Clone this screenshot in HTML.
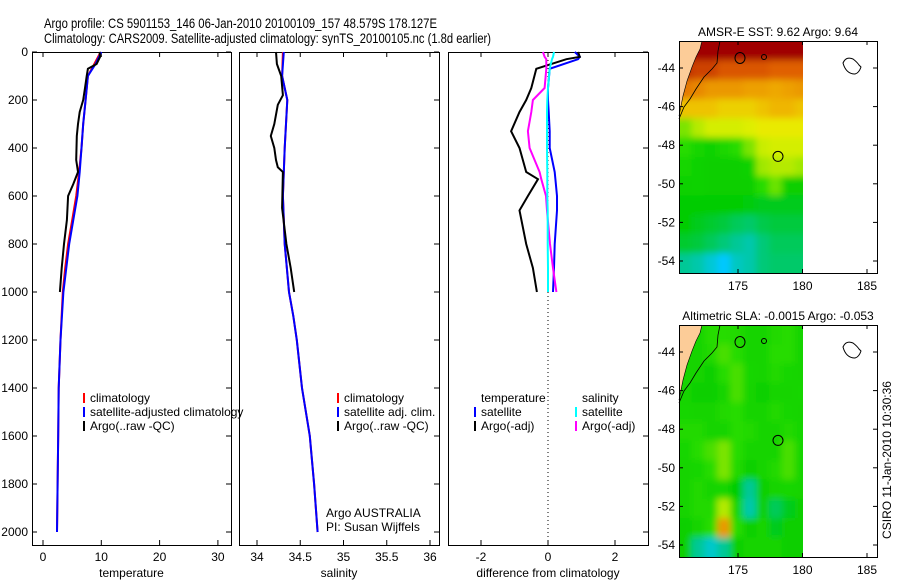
<!DOCTYPE html>
<html><head><meta charset="utf-8"><style>
body{margin:0;background:#fff;}
svg{display:block;font-family:"Liberation Sans",sans-serif;}
</style></head><body>
<svg id="c" width="900" height="580" viewBox="0 0 900 580">
<defs>
<filter id="soft" x="-5%" y="-5%" width="110%" height="110%"><feGaussianBlur stdDeviation="3.5"/></filter>
<clipPath id="clip1"><rect x="679" y="41" width="124" height="232"/></clipPath>
<clipPath id="clip2"><rect x="679" y="325" width="124" height="232"/></clipPath>
</defs>
</svg>
<script>
// ---- data ----
const tempClimDepth=[0,50,100,200,300,400,500,600,700,800,900,1000,1200,1400,1600,1800,2000];
const tempClim=[9.9,8.8,7.7,7.3,6.9,6.6,6.2,5.7,5.0,4.3,3.8,3.4,3.0,2.7,2.6,2.5,2.4];
const tempSat=[10.0,9.0,7.7,7.3,6.9,6.6,6.3,5.9,5.2,4.5,4.0,3.5,3.0,2.7,2.6,2.5,2.4];
const tempArgoDepth=[0,20,50,70,100,150,200,250,300,350,450,500,550,600,700,800,900,1000];
const tempArgo=[9.7,9.8,9.2,7.7,7.5,7.2,6.9,6.3,6.0,5.8,5.7,6.0,5.2,4.3,4.1,3.6,3.2,2.9];
const salClimDepth=[0,100,200,400,600,800,1000,1100,1200,1400,1600,1800,2000];
const salClim=[34.30,34.29,34.35,34.32,34.30,34.32,34.37,34.42,34.46,34.52,34.61,34.66,34.70];
const salSat=[34.31,34.29,34.35,34.32,34.30,34.32,34.37,34.42,34.46,34.52,34.61,34.66,34.70];
const salArgoDepth=[0,50,100,180,220,300,350,400,450,480,500,650,800,900,1000];
const salArgo=[34.22,34.23,34.28,34.30,34.24,34.20,34.16,34.20,34.22,34.24,34.30,34.29,34.34,34.39,34.43];
const diffDepth=[0,20,30,70,150,200,250,330,400,500,530,600,660,800,900,1000];
const diffTempSat=[0.8,0.95,0.9,0.05,0.0,0.0,0.02,0.05,0.05,0.2,0.22,0.27,0.27,0.2,0.18,0.15];
const diffTempArgo=[0.9,0.95,0.55,-0.35,-0.5,-0.65,-0.85,-1.1,-0.85,-0.65,-0.3,-0.6,-0.85,-0.65,-0.45,-0.33];
const diffSalSat=[0.18,0.15,0.12,0.05,0.0,-0.02,-0.03,-0.03,-0.03,-0.02,-0.02,-0.02,-0.01,-0.01,0.0,0.0];
const diffSalArgo=[-0.15,-0.1,-0.05,-0.05,-0.1,-0.45,-0.5,-0.6,-0.55,-0.25,-0.2,-0.06,-0.03,0.06,0.15,0.25];
const depthTicks=[0,200,400,600,800,1000,1200,1400,1600,1800,2000];
const tempTicks=[0,10,20,30];
const salTicks=[34,34.5,35,35.5,36];
const diffTicks=[-2,0,2];
const lonTicks=[175,180,185];
const latTicks=[-44,-46,-48,-50,-52,-54];
// SST grid (normalized colour value), rows from north (-42.6) to south, 1 deg lon cols from 170.4
const sstGrid=[
[.95,.95,.95,.95,.95,.95,.95,.95,.95,.95],
[.9,.88,.88,.86,.86,.86,.86,.85,.85,.85],
[.82,.8,.78,.78,.78,.77,.77,.76,.77,.78],
[.72,.72,.72,.7,.7,.7,.72,.74,.74,.72],
[.55,.6,.63,.63,.63,.64,.66,.66,.66,.66],
[.5,.46,.44,.47,.5,.55,.62,.63,.63,.63],
[.46,.44,.42,.42,.42,.44,.58,.6,.6,.58],
[.43,.44,.42,.42,.42,.42,.5,.54,.42,.42],
[.4,.4,.4,.4,.4,.39,.38,.38,.38,.38],
[.4,.38,.37,.36,.34,.33,.35,.36,.36,.36],
[.37,.36,.34,.32,.3,.28,.32,.34,.34,.34],
[.3,.28,.24,.2,.26,.28,.32,.33,.33,.33]];
const slaGrid=[
[.45,.45,.5,.5,.48,.45,.45,.48,.5,.45],
[.45,.45,.48,.52,.5,.45,.45,.5,.5,.45],
[.45,.45,.42,.5,.52,.46,.45,.48,.46,.45],
[.45,.42,.42,.45,.52,.45,.42,.45,.45,.46],
[.46,.45,.45,.48,.5,.45,.45,.48,.46,.45],
[.48,.48,.45,.45,.5,.48,.45,.45,.48,.46],
[.46,.5,.52,.55,.5,.45,.45,.45,.52,.46],
[.45,.46,.5,.55,.48,.42,.45,.48,.52,.45],
[.45,.48,.45,.46,.4,.3,.42,.45,.46,.45],
[.45,.48,.48,.6,.45,.28,.42,.34,.38,.42],
[.42,.45,.5,.78,.5,.42,.45,.38,.42,.42],
[.42,.3,.25,.3,.42,.45,.45,.45,.42,.42]];
// ---- drawing ----
const NS="http://www.w3.org/2000/svg";
const svg=document.getElementById('c');
function el(t,a,p){const e=document.createElementNS(NS,t);for(const k in a)e.setAttribute(k,a[k]);(p||svg).appendChild(e);return e;}
function txt(x,y,s,anchor,size,name,extra){const e=el('text',Object.assign({x:x,y:y,'font-size':size||12,'text-anchor':anchor||'start',fill:'#000'},extra||{}));e.textContent=s;


return e;}
const Y0=52,Ypx=0.24,YB=545;
const yD=d=>Y0+d*Ypx;
const xT=v=>43+v*5.83;
const xS=v=>257+(v-34)*86.5;
const xDf=v=>548+v*33.5;
function stepPath(xs,ds,fx){let d='';for(let i=0;i<xs.length;i++){d+=(i?'L':'M')+fx(xs[i]).toFixed(1)+','+yD(ds[i]).toFixed(1);}return d;}
function line(xs,ds,fx,col,name,w){const p=el('path',{d:stepPath(xs,ds,fx),fill:'none',stroke:col,'stroke-width':w||2});

}
function panel(x0,x1,name,ticks,fx,fmt,label,yl){
 const g=el('g',{});
 
 
 el('rect',{x:x0+.5,y:Y0+.5,width:x1-x0,height:YB-Y0,fill:'none',stroke:'#000','stroke-width':1},g);
 ticks.forEach(t=>{const x=fx(t);el('line',{x1:x,x2:x,y1:Y0,y2:Y0+5,stroke:'#000'},g);el('line',{x1:x,x2:x,y1:YB,y2:YB-5,stroke:'#000'},g);
  txt(x,561,fmt(t),'middle',12,'x-tick-label');});
 if(yl){depthTicks.forEach(d=>{const y=yD(d);el('line',{x1:x0,x2:x0+5,y1:y,y2:y,stroke:'#000'},g);el('line',{x1:x1,x2:x1-5,y1:y,y2:y,stroke:'#000'},g);txt(x0-4,y+4,String(d),'end',12,'y-tick-label');});}
 else{depthTicks.forEach(d=>{const y=yD(d);el('line',{x1:x1,x2:x1-5,y1:y,y2:y,stroke:'#000'},g);});}
 txt((x0+x1)/2,577,label,'middle',12,'x-axis-title');
}
panel(32,231,'temperature-panel',tempTicks,xT,String,'temperature',true);
panel(239,439,'salinity-panel',salTicks,xS,String,'salinity',false);
panel(448,648,'difference-panel',diffTicks,xDf,String,'difference from climatology',false);
el('line',{x1:548,x2:548,y1:Y0,y2:YB,stroke:'#000','stroke-dasharray':'1,3'});
line(tempClim,tempClimDepth,xT,'#ff0000','temp-climatology-line');
line(tempSat,tempClimDepth,xT,'#0000ff','temp-satellite-line');
line(tempArgo,tempArgoDepth,xT,'#000','temp-argo-line');
line(salClim,salClimDepth,xS,'#ff0000','sal-climatology-line');
line(salSat,salClimDepth,xS,'#0000ff','sal-satellite-line');
line(salArgo,salArgoDepth,xS,'#000','sal-argo-line');
line(diffTempSat,diffDepth,xDf,'#0000ff','diff-temp-satellite-line');
line(diffTempArgo,diffDepth,xDf,'#000','diff-temp-argo-line');
line(diffSalArgo,diffDepth,xDf,'#ff00ff','diff-sal-argo-line');
line(diffSalSat,diffDepth,xDf,'#00ffff','diff-sal-satellite-line');
function leg(x,y,col,s,name){if(col){const r=el('rect',{x:x-7,y:y-9,width:2,height:10,fill:col});}txt(x,y,s,'start',12,name);}
leg(90,402,'#ff0000','climatology','legend-climatology');
leg(90,416,'#0000ff','satellite-adjusted climatology','legend-satellite');
leg(90,430,'#000','Argo(..raw -QC)','legend-argo');
leg(344,402,'#ff0000','climatology','legend-sal-climatology');
leg(344,416,'#0000ff','satellite adj. clim.','legend-sal-satellite');
leg(344,430,'#000','Argo(..raw -QC)','legend-sal-argo');
txt(326,517,'Argo AUSTRALIA','start',12,'credit-argo');
txt(326,531,'PI: Susan Wijffels','start',12,'credit-pi');
leg(481,402,null,'temperature','legend-temperature-header');
leg(481,416,'#0000ff','satellite','legend-diff-temp-satellite');
leg(481,430,'#000','Argo(-adj)','legend-diff-temp-argo');
leg(582,402,null,'salinity','legend-salinity-header');
leg(582,416,'#00ffff','satellite','legend-diff-sal-satellite');
leg(582,430,'#ff00ff','Argo(-adj)','legend-diff-sal-argo');
txt(44,28,'Argo profile: CS 5901153_146 06-Jan-2010 20100109_157 48.579S 178.127E','start',14,'title-line-1',{textLength:393,lengthAdjust:'spacingAndGlyphs'});
txt(44,43,'Climatology: CARS2009. Satellite-adjusted climatology: synTS_20100105.nc (1.8d earlier)','start',14,'title-line-2',{textLength:447,lengthAdjust:'spacingAndGlyphs'});
const stops=[[0,[0,48,255]],[.2,[0,200,255]],[.3,[0,200,150]],[.4,[0,204,0]],[.5,[40,220,0]],[.56,[140,230,0]],[.65,[232,240,0]],[.75,[240,176,0]],[.85,[224,96,0]],[.95,[160,0,0]],[1,[150,0,0]]];
function cmap(v){for(let i=1;i<stops.length;i++){if(v<=stops[i][0]){const a=stops[i-1],b=stops[i],t=(v-a[0])/(b[0]-a[0]);return 'rgb('+a[1].map((c,k)=>Math.round(c+(b[1][k]-c)*t)).join(',')+')';}}return 'rgb(150,0,0)';}
function map(top,grid,name,title,clip){
 const lx=v=>738+(v-175)*12.9;
 const latY=v=>top+27+(-44-v)*19.3;
 const g=el('g',{});
 
 
 const x0=679,x1=877,y0=top,y1=top+232;
 const cg=el('g',{'clip-path':'url(#'+clip+')'},g);
 const fg=el('g',{filter:'url(#soft)'},cg);
 for(let r=0;r<grid.length;r++)for(let c=0;c<grid[r].length;c++){
  let cx=lx(170.4+c),cy=latY(-42.6-r);
  let w=lx(170.4+c+1)-cx,h=latY(-42.6-r-1)-cy;
  // extend edge cells so blur doesn't fade at borders
  if(c===0){cx-=8;w+=8;} if(r===0){cy-=8;h+=8;} if(r===grid.length-1)h+=8;
  if(c===grid[r].length-1)w=Math.max(0,803-cx)+8;
  const cell=el('rect',{x:cx.toFixed(1),y:cy.toFixed(1),width:(w+.4).toFixed(1),height:(h+.4).toFixed(1),fill:cmap(grid[r][c])},fg);
  
  }
 el('rect',{x:803,y:y0,width:80,height:240,fill:'#fff'},g);
 const land=el('path',{d:`M679,${y0} L702,${y0} L700,${y0+8} L696,${y0+16} L692,${y0+26} L687,${y0+40} L683,${y0+55} L679,${y0+75} Z`,fill:'#fccc98'},g);
 
 el('path',{d:`M720,${y0} L718,${y0+10} L717,${y0+22} L712,${y0+28} L704,${y0+36} L696,${y0+48} L690,${y0+58} L684,${y0+66} L679,${y0+78}`,fill:'none',stroke:'#000','stroke-width':0.8},g);
 el('path',{d:`M702,${y0} L700,${y0+8} L696,${y0+16} L692,${y0+26} L687,${y0+40} L683,${y0+55} L679,${y0+75}`,fill:'none',stroke:'#000','stroke-width':0.6},g);
 el('ellipse',{cx:740,cy:y0+17,rx:5,ry:5.5,fill:'none',stroke:'#000'},g);
 el('ellipse',{cx:764,cy:y0+16,rx:2.5,ry:2.5,fill:'none',stroke:'#000'},g);
 el('path',{d:`M843,${y0+22} q3,-7 10,-4 q4,3 6,6 l2,2 q-2,6 -6,7 q-9,0 -12,-11z`,fill:'none',stroke:'#000'},g);
 const ac=el('circle',{cx:778,cy:latY(-48.58),r:5,fill:'none',stroke:'#000'},g);
 
 el('rect',{x:x0+.5,y:y0+.5,width:x1-x0,height:y1-y0,fill:'none',stroke:'#000'},g);
 lonTicks.forEach(v=>{const x=lx(v);el('line',{x1:x,x2:x,y1:y1,y2:y1-4,stroke:'#000'},g);el('line',{x1:x,x2:x,y1:y0,y2:y0+4,stroke:'#000'},g);txt(x,y1+17,String(v),'middle',12,'lon-tick-label');});
 latTicks.forEach(v=>{const y=latY(v);el('line',{x1:x0,x2:x0+4,y1:y,y2:y,stroke:'#000'},g);el('line',{x1:x1,x2:x1-4,y1:y,y2:y,stroke:'#000'},g);txt(x0-4,y+4,String(v),'end',12,'lat-tick-label');});
 txt(778,top-5,title,'middle',12,name+'-title');
}
map(41,sstGrid,'sst-map','AMSR-E SST: 9.62 Argo: 9.64','clip1');
map(325,slaGrid,'sla-map','Altimetric SLA: -0.0015 Argo: -0.053','clip2');
txt(0,0,'CSIRO 11-Jan-2010 10:30:36','middle',12,'timestamp',{transform:'translate(891,460) rotate(-90)'});
</script>
</body></html>
